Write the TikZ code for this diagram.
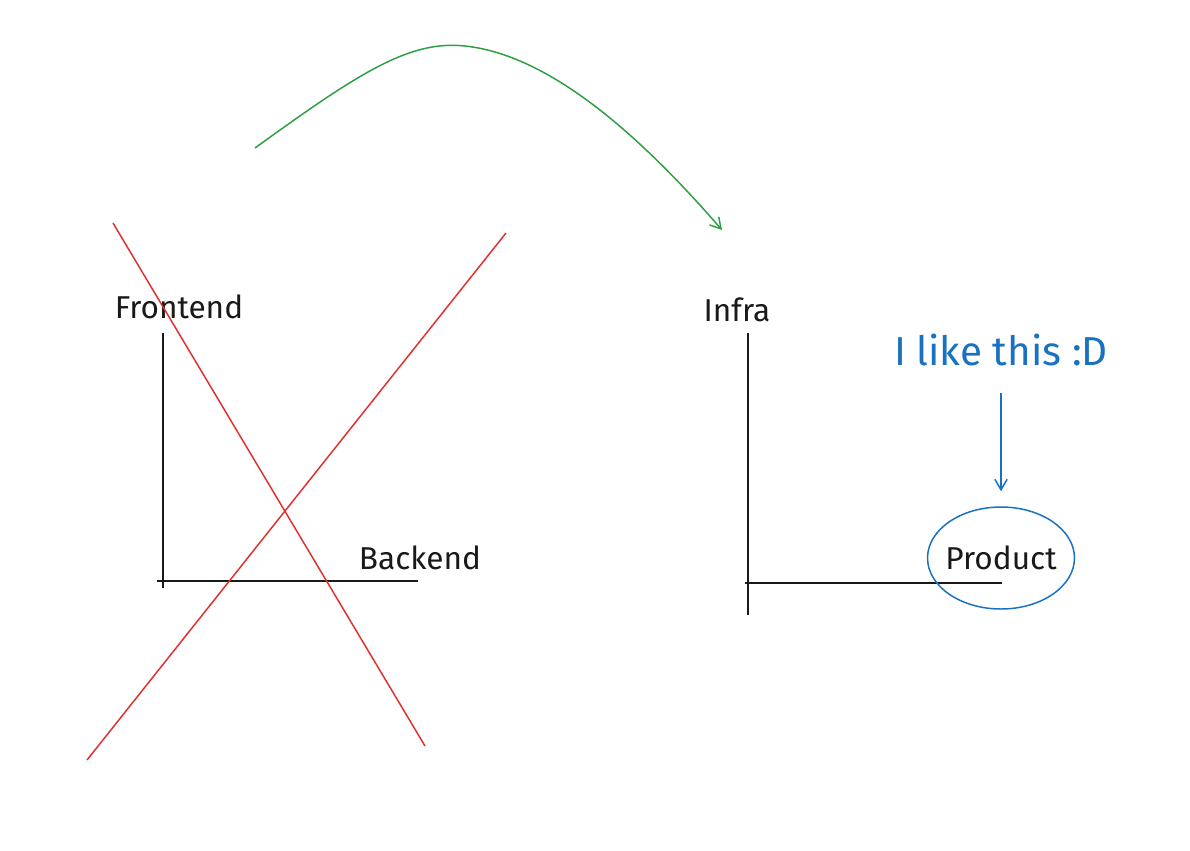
\documentclass[tikz,border=0pt]{standalone}
\usepackage{fontspec}
\setmainfont{Fira Sans}
\usetikzlibrary{positioning}
\usetikzlibrary{arrows.meta}
\usetikzlibrary{shapes.geometric}
\definecolor{sketchgreen}{HTML}{2F9E44}
\definecolor{sketchred}{HTML}{E03131}
\definecolor{sketchblue}{HTML}{1971C2}
\tikzset{axisline/.style={line width=1.1pt, black!90}}
\tikzset{axislabel/.style={font=\fontsize{18}{21}\selectfont, text=black!90}}
\tikzset{crossline/.style={line width=0.85pt, sketchred}}
\tikzset{barb/.style={-{Straight Barb[length=6pt,width=7pt]}}}

\begin{document}
\begin{tikzpicture}[x=0.02cm,y=-0.02cm]
\useasboundingbox (0,0) rectangle (1190,850);
% left chart, crossed out
\draw[axisline] (163,333) -- (163,588);
\draw[axisline] (157,581) -- (418,581);
\node[axislabel] (frontend) at (179,307) {Frontend};
\node[axislabel] (backend) at (420,558) {Backend};
\draw[crossline] (113,223) -- (425,746);
\draw[crossline] (506,233) -- (87,760);
% right chart
\draw[axisline] (748,333) -- (748,615);
\draw[axisline] (745,583) -- (1002,583);
\node[axislabel] (infra) at (737,310) {Infra};
\node[axislabel, draw=sketchblue, line width=0.85pt, ellipse, inner xsep=-2.5pt, inner ysep=0pt,
      minimum width=2.94cm, minimum height=2.04cm] (product) at (1001,558) {Product};
\node[font=\fontsize{23}{27}\selectfont, text=sketchblue] (like) at (1001,350) {I like this :D};
\draw[barb, line width=0.85pt, sketchblue, shorten <=0.42cm, shorten >=0.3cm] (like) -- (product);
% the move
\coordinate (gstart) at (255,148);
\coordinate (gend) at (722,230);
\draw[barb, line width=0.85pt, sketchgreen] (gstart) .. controls (360,72) and (410,40) .. (465,46)
  .. controls (540,54) and (625,118) .. (gend);
\end{tikzpicture}
\end{document}
